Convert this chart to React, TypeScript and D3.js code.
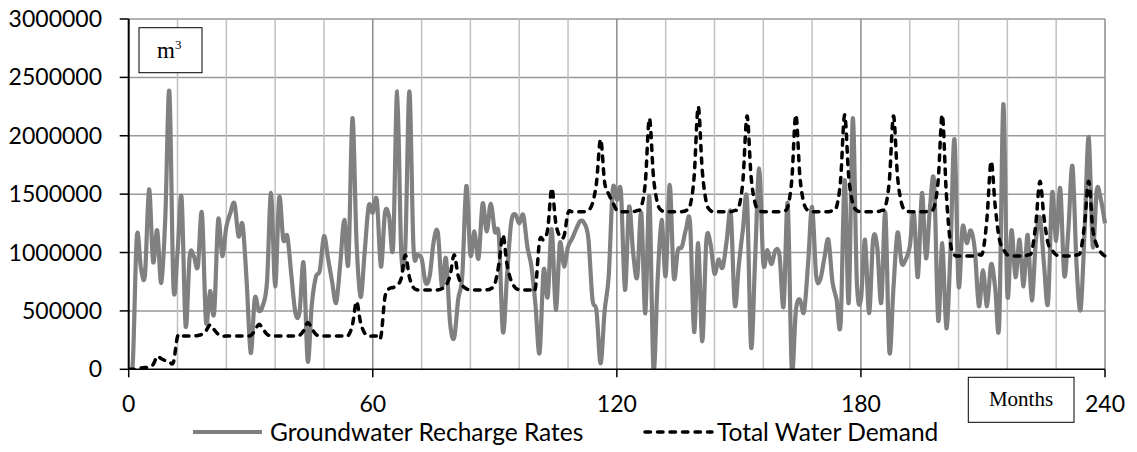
import React from 'react';
import * as d3 from 'd3';

// Monthly values, month 0 .. 240 (m³)
const rechargeRates: number[] = [
  0, 50000, 1140000, 870000, 810000, 1540000, 920000, 1190000, 740000, 1300000,
  2380000, 710000, 1000000, 1470000, 370000, 970000, 970000, 880000, 1340000, 410000,
  670000, 480000, 1280000, 970000, 1220000, 1340000, 1420000, 1140000, 1240000, 750000,
  140000, 610000, 500000, 550000, 750000, 1510000, 710000, 1470000, 1110000, 1140000,
  800000, 480000, 490000, 910000, 70000, 550000, 790000, 850000, 1140000, 950000,
  750000, 570000, 900000, 1280000, 910000, 2150000, 1100000, 620000, 1000000, 1400000,
  1340000, 1450000, 880000, 1340000, 1310000, 1050000, 2380000, 1000000, 1050000, 2380000,
  1050000, 980000, 950000, 740000, 800000, 1100000, 1170000, 710000, 950000, 400000,
  270000, 600000, 800000, 1570000, 980000, 1180000, 950000, 1420000, 1180000, 1420000,
  1180000, 1140000, 320000, 800000, 1250000, 1330000, 1250000, 1320000, 1050000, 880000,
  550000, 140000, 850000, 620000, 1200000, 510000, 1080000, 880000, 1050000, 1120000,
  1200000, 1270000, 1250000, 1120000, 600000, 500000, 50000, 500000, 800000, 1540000,
  1450000, 1520000, 680000, 1390000, 1000000, 790000, 1340000, 480000, 1480000, 0,
  750000, 1280000, 800000, 1580000, 790000, 1020000, 1050000, 1200000, 1250000, 320000,
  1080000, 240000, 1100000, 1080000, 820000, 940000, 870000, 1100000, 1340000, 550000,
  900000, 1200000, 1450000, 190000, 950000, 1720000, 910000, 1020000, 900000, 1020000,
  970000, 540000, 1420000, 0, 500000, 600000, 490000, 900000, 1390000, 800000,
  770000, 950000, 1110000, 750000, 600000, 390000, 1620000, 570000, 2150000, 750000,
  600000, 1110000, 480000, 1110000, 1050000, 570000, 1340000, 150000, 700000, 1170000,
  910000, 940000, 1050000, 1340000, 790000, 1510000, 950000, 1400000, 1600000, 420000,
  1080000, 350000, 1000000, 1970000, 720000, 1220000, 1080000, 1190000, 1020000, 540000,
  850000, 540000, 900000, 700000, 390000, 2270000, 640000, 1190000, 790000, 1110000,
  710000, 1150000, 590000, 1100000, 1300000, 900000, 570000, 1510000, 1100000, 1550000,
  800000, 1200000, 1740000, 900000, 510000, 1200000, 1990000, 1050000, 1540000, 1450000,
  1250000,
];

const totalDemand: number[] = [
  0, 0, 5000, 10000, 15000, 20000, 40000, 110000, 90000, 75000,
  65000, 60000, 280000, 285000, 285000, 285000, 285000, 290000, 300000, 330000,
  380000, 340000, 300000, 285000, 285000, 285000, 285000, 285000, 285000, 285000,
  290000, 330000, 385000, 345000, 300000, 285000, 285000, 285000, 285000, 285000,
  285000, 285000, 290000, 330000, 400000, 350000, 300000, 285000, 285000, 285000,
  285000, 285000, 285000, 285000, 290000, 380000, 580000, 400000, 310000, 285000,
  285000, 285000, 280000, 620000, 690000, 700000, 720000, 780000, 980000, 790000,
  700000, 680000, 680000, 680000, 680000, 680000, 680000, 690000, 720000, 800000,
  980000, 800000, 720000, 690000, 680000, 680000, 680000, 680000, 680000, 690000,
  730000, 900000, 1150000, 900000, 760000, 700000, 680000, 680000, 680000, 680000,
  700000, 1100000, 1110000, 1200000, 1550000, 1250000, 1140000, 1140000, 1340000, 1350000,
  1350000, 1350000, 1350000, 1360000, 1420000, 1600000, 1970000, 1600000, 1500000, 1430000,
  1360000, 1350000, 1350000, 1350000, 1350000, 1360000, 1390000, 1600000, 2150000, 1650000,
  1420000, 1360000, 1350000, 1350000, 1350000, 1350000, 1350000, 1360000, 1400000, 1650000,
  2250000, 1700000, 1430000, 1360000, 1350000, 1350000, 1350000, 1350000, 1350000, 1360000,
  1390000, 1620000, 2170000, 1650000, 1420000, 1360000, 1350000, 1350000, 1350000, 1350000,
  1350000, 1360000, 1390000, 1620000, 2180000, 1650000, 1420000, 1360000, 1350000, 1350000,
  1350000, 1350000, 1350000, 1360000, 1390000, 1620000, 2180000, 1650000, 1420000, 1360000,
  1350000, 1350000, 1350000, 1350000, 1350000, 1360000, 1390000, 1620000, 2170000, 1650000,
  1420000, 1360000, 1350000, 1350000, 1350000, 1350000, 1350000, 1360000, 1390000, 1620000,
  2180000, 1500000, 1080000, 980000, 970000, 970000, 970000, 970000, 970000, 980000,
  1010000, 1300000, 1780000, 1400000, 1120000, 1030000, 980000, 970000, 970000, 970000,
  970000, 980000, 1010000, 1250000, 1610000, 1300000, 1080000, 1020000, 980000, 970000,
  970000, 970000, 970000, 980000, 1010000, 1250000, 1610000, 1200000, 1060000, 1000000,
  970000,
];

const yTicks = [0, 500000, 1000000, 1500000, 2000000, 2500000, 3000000];
const xTicks = [0, 60, 120, 180, 240];
const xGridMonths = [12, 24, 36, 48, 60, 72, 84, 96, 108, 120, 132, 144, 156, 168, 180, 192, 204, 216, 228, 240];
const seriesNames = ['Groundwater Recharge Rates', 'Total Water Demand'];

const W = 1137;
const H = 452;
const PL = 128.7, PR = 1105, PT = 19, PB = 369.3;
const FONT = 'Lato, "Open Sans", sans-serif';
const SERIF = '"Liberation Serif", "Times New Roman", serif';

export default function App() {
  const x = d3.scaleLinear().domain([0, 240]).range([PL, PR]);
  const y = d3.scaleLinear().domain([0, 3000000]).range([PB, PT]);
  const line = d3
    .line<number>()
    .x((_, i) => x(i))
    .y((d) => y(d))
    .curve(d3.curveCatmullRom.alpha(0));

  return (
    <svg
      width={W}
      height={H}
      viewBox={`0 0 ${W} ${H}`}
      style={{ position: 'absolute', left: 0, top: 0, background: '#fff' }}
    >
      <defs>
        <clipPath id="plotClip">
          <rect x={PL} y={PT - 2} width={PR - PL + 2} height={PB - PT + 2} />
        </clipPath>
      </defs>
      <rect x={0} y={0} width={W} height={H} fill="#fff" />
      {yTicks.slice(1).map((t) => (
        <line key={'h' + t} x1={PL} x2={PR} y1={y(t)} y2={y(t)} stroke="#999" strokeWidth={1.5} />
      ))}
      {xGridMonths.map((m) => (
        <line
          key={'v' + m}
          x1={x(m)}
          x2={x(m)}
          y1={PT}
          y2={PB}
          stroke={m % 60 === 0 ? '#8c8c8c' : '#c0c0c0'}
          strokeWidth={1.5}
        />
      ))}
      <g clipPath="url(#plotClip)">
        <path d={line(rechargeRates) || ''} fill="none" stroke="#808080" strokeWidth={4.2} strokeLinejoin="round" />
        <path
          d={line(totalDemand) || ''}
          fill="none"
          stroke="#000"
          strokeWidth={3.5}
          strokeDasharray="5.5,7"
          strokeLinecap="round"
          strokeLinejoin="round"
        />
      </g>
      <line x1={PL} x2={PR} y1={PB} y2={PB} stroke="#000" strokeWidth={1.5} />
      <line x1={PL} x2={PL} y1={PT} y2={PB} stroke="#000" strokeWidth={2} />
      {yTicks.map((t) => (
        <g key={'yt' + t}>
          <line x1={PL - 9} x2={PL} y1={y(t)} y2={y(t)} stroke="#000" strokeWidth={1.5} />
          <text x={102} y={y(t) + 8} textAnchor="end" fontFamily={FONT} fontSize={23} fill="#000">
            {t}
          </text>
        </g>
      ))}
      {xTicks.map((t) => (
        <g key={'xt' + t}>
          <line x1={x(t)} x2={x(t)} y1={PB} y2={PB + 8} stroke="#000" strokeWidth={1.5} />
          <text x={x(t)} y={412} textAnchor="middle" fontFamily={FONT} fontSize={23} fill="#000">
            {t}
          </text>
        </g>
      ))}
      <rect x={139} y={27.7} width={63} height={45} fill="#fff" stroke="#000" strokeWidth={1} />
      <text x={157} y={57.5} fontFamily={SERIF} fontSize={23} fill="#000">
        m
        <tspan fontSize={13} dy={-9}>
          3
        </tspan>
      </text>
      <rect x={968.3} y={377.3} width={105.7} height={45} fill="#fff" stroke="#000" strokeWidth={1} />
      <text x={1021} y={406} textAnchor="middle" fontFamily={SERIF} fontSize={21} fill="#000">
        Months
      </text>
      <line x1={193} x2={262} y1={432} y2={432} stroke="#808080" strokeWidth={4.2} />
      <text x={270} y={441} fontFamily={FONT} fontSize={24.5} fill="#000">
        {seriesNames[0]}
      </text>
      <line
        x1={645}
        x2={712}
        y1={432}
        y2={432}
        stroke="#000"
        strokeWidth={3.5}
        strokeDasharray="5.5,7"
        strokeLinecap="round"
      />
      <text x={717} y={441} fontFamily={FONT} fontSize={24.5} fill="#000">
        {seriesNames[1]}
      </text>
    </svg>
  );
}
